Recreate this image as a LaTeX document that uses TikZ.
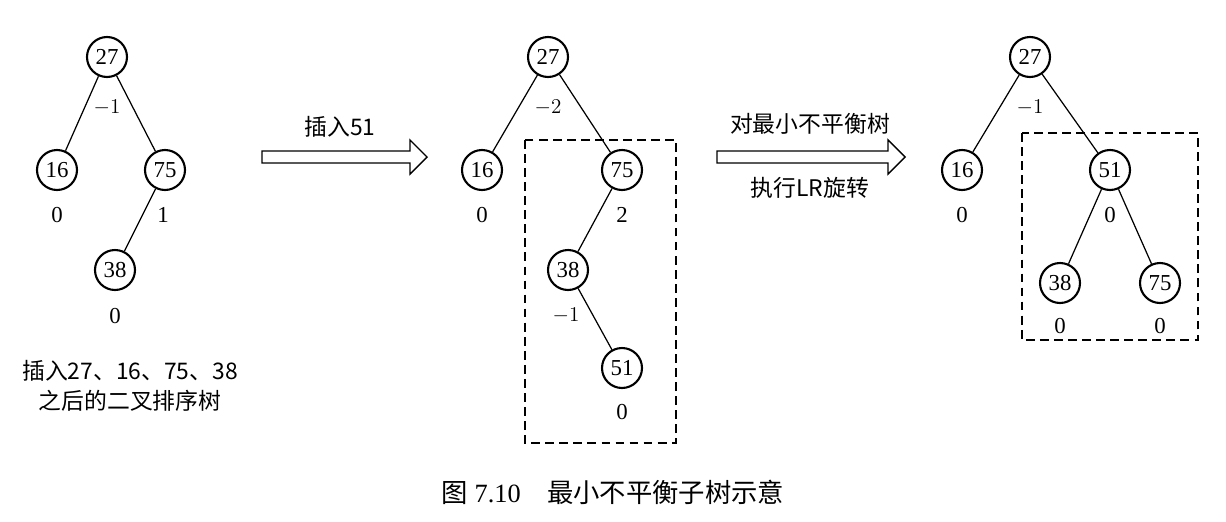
\documentclass[tikz,border=0pt]{standalone}
\usepackage{fontspec}
\setmainfont{Liberation Serif}
\newfontfamily\cjk{Noto Sans CJK SC}
\begin{document}
\begin{tikzpicture}[x=0.02cm,y=-0.02cm,
  nd/.style={circle,draw,line width=1.2pt,minimum size=0.8cm,inner sep=0pt,font=\fontsize{13}{15}\selectfont},
  lb/.style={font=\fontsize{13}{15}\selectfont},
  tx/.style={font=\cjk\fontsize{13}{17}\selectfont,align=center},
  ed/.style={line width=0.7pt},
  bx/.style={dash pattern=on 5pt off 3pt,line width=0.8pt},
  harrow/.style={draw,line width=0.8pt,fill=white}]
\useasboundingbox (0,0) rectangle (1226,521);
% tree 1
\node[nd] (a27) at (107,57) {27};
\node[nd] (a16) at (57,170) {16};
\node[nd] (a75) at (165,170) {75};
\node[nd] (a38) at (115,270) {38};
\draw[ed] (a27)--(a16) (a27)--(a75) (a75)--(a38);
\node[lb] (la1) at (107,108) {$-1$};
\node[lb] (la2) at (57,215) {0};
\node[lb] (la3) at (163,215) {1};
\node[lb] (la4) at (115,316) {0};
\node[tx] (cap1) at (130,386) {插入27、16、75、38\\之后的二叉排序树};
% arrow 1
\draw[harrow] (262,151)--(410,151)--(410,140)--(427,157)--(410,174)--(410,163)--(262,163)--cycle;
\node[tx] (t1) at (340,127) {插入51};
% tree 2
\draw[bx] (525,140) rectangle (676,443);
\node[nd] (b27) at (548,57) {27};
\node[nd] (b16) at (482,170) {16};
\node[nd] (b75) at (622,170) {75};
\node[nd] (b38) at (568,270) {38};
\node[nd] (b51) at (622,368) {51};
\draw[ed] (b27)--(b16) (b27)--(b75) (b75)--(b38) (b38)--(b51);
\node[lb] (lb1) at (548,108) {$-2$};
\node[lb] (lb2) at (482,215) {0};
\node[lb] (lb3) at (622,215) {2};
\node[lb] (lb4) at (566,316) {$-1$};
\node[lb] (lb5) at (622,412) {0};
% arrow 2
\draw[harrow] (717,151)--(888,151)--(888,140)--(905,157)--(888,174)--(888,163)--(717,163)--cycle;
\node[tx] (t2) at (810,124) {对最小不平衡树};
\node[tx] (t3) at (810,188) {执行LR旋转};
% tree 3
\draw[bx] (1022,133) rectangle (1198,340);
\node[nd] (c27) at (1030,57) {27};
\node[nd] (c16) at (962,170) {16};
\node[nd] (c51) at (1110,170) {51};
\node[nd] (c38) at (1060,283) {38};
\node[nd] (c75) at (1160,283) {75};
\draw[ed] (c27)--(c16) (c27)--(c51) (c51)--(c38) (c51)--(c75);
\node[lb] (lc1) at (1030,108) {$-1$};
\node[lb] (lc2) at (962,215) {0};
\node[lb] (lc3) at (1110,215) {0};
\node[lb] (lc4) at (1060,326) {0};
\node[lb] (lc5) at (1160,326) {0};
% caption
\node[font=\fontsize{15}{17}\selectfont] (cap) at (613,492) {{\cjk 图} 7.10\quad{\cjk 最小不平衡子树示意}};
\end{tikzpicture}
\end{document}
